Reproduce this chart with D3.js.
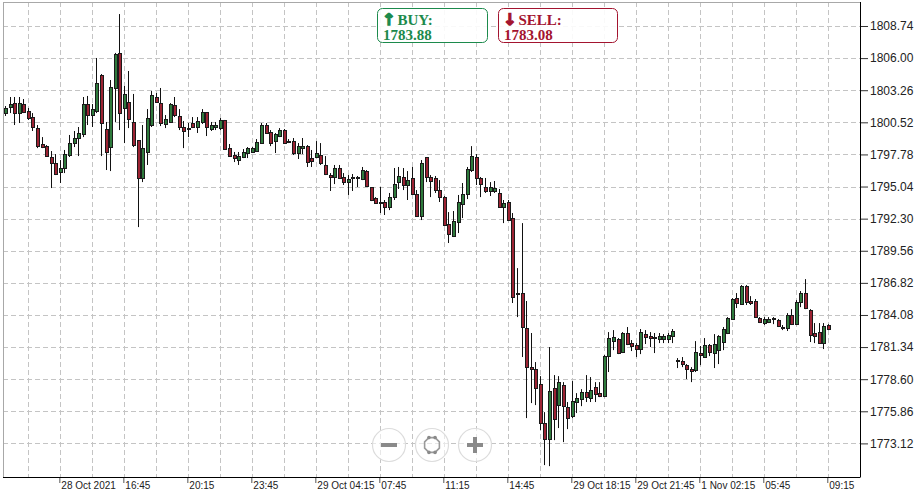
<!DOCTYPE html>
<html><head><meta charset="utf-8">
<script src="https://cdn.jsdelivr.net/npm/d3@7/dist/d3.min.js"></script>
<style>body{margin:0;background:#fff}svg{display:block}</style>
</head><body>
<script>
const openV=[1801.31,1801.82,1802.16,1801.31,1802.08,1801.48,1800.97,1800.03,1798.67,1798.49,
1797.56,1797.05,1796.28,1796.62,1797.73,1798.75,1799.18,1799.52,1802.08,1801.14,
1801.48,1804.56,1799.95,1798.41,1803.45,1806.44,1801.74,1802.25,1800.55,1799.01,
1795.77,1797.99,1800.29,1802.68,1802.16,1800.38,1800.55,1801.99,1801.06,1800.12,
1800.03,1800.46,1800.12,1800.55,1801.40,1799.95,1800.12,1800.03,1800.72,1798.32,
1797.73,1797.30,1797.56,1797.90,1797.99,1798.07,1798.75,1800.29,1799.69,1798.92,
1799.35,1799.86,1798.92,1798.92,1797.90,1798.32,1798.49,1797.47,1797.56,1797.73,
1796.88,1796.02,1795.85,1796.62,1795.85,1795.42,1795.77,1795.85,1795.68,1796.36,
1795.00,1794.06,1793.63,1793.72,1793.29,1794.14,1795.42,1795.85,1795.17,1795.77,
1794.40,1792.52,1797.56,1795.85,1795.77,1794.74,1794.14,1791.84,1790.82,1792.01,
1793.55,1794.40,1796.45,1797.56,1795.77,1795.00,1794.66,1794.66,1794.49,1793.29,
1793.72,1792.35,1785.95,1785.95,1782.96,1779.63,1779.46,1778.18,1774.85,1773.49,
1777.84,1776.39,1778.10,1776.22,1775.45,1776.65,1776.90,1777.50,1776.99,1777.93,
1777.41,1777.16,1780.57,1781.85,1782.02,1780.91,1782.54,1781.68,1781.51,1781.17,
1782.45,1782.28,1782.11,1782.02,1782.02,1782.02,1782.28,1780.15,1780.15,1779.80,
1779.46,1779.38,1780.83,1780.49,1781.51,1780.83,1781.08,1781.77,1782.54,1783.73,
1785.52,1785.01,1786.55,1785.27,1785.27,1783.82,1783.39,1783.47,1783.73,1783.65,
1783.05,1782.96,1784.07,1783.30,1785.18,1785.95,1784.50,1782.54,1782.62,1781.68,
1783.22];
const highV=[1801.91,1802.68,1802.68,1802.68,1802.51,1801.74,1801.31,1800.29,1799.26,1798.58,
1798.07,1797.81,1797.30,1798.16,1799.44,1799.78,1800.12,1802.68,1802.77,1802.08,
1806.01,1804.64,1800.55,1804.13,1806.44,1809.76,1803.62,1804.90,1802.94,1799.01,
1800.29,1801.65,1803.19,1803.02,1803.45,1801.14,1802.16,1802.68,1801.65,1800.63,
1800.46,1800.97,1800.97,1801.65,1801.40,1800.55,1800.55,1800.89,1800.72,1798.67,
1797.99,1797.99,1798.24,1798.41,1798.41,1799.09,1800.46,1800.46,1799.86,1799.61,
1800.03,1799.95,1799.09,1799.18,1798.75,1799.18,1798.58,1798.16,1798.92,1798.75,
1797.64,1796.19,1796.88,1796.88,1796.19,1796.02,1796.11,1795.94,1796.71,1796.45,
1795.00,1794.14,1795.00,1793.89,1794.49,1796.62,1796.71,1796.62,1796.36,1796.71,
1794.74,1797.30,1797.56,1796.02,1795.94,1795.59,1794.23,1792.86,1792.95,1794.32,
1795.34,1796.71,1798.49,1797.81,1795.85,1795.77,1795.42,1795.51,1794.83,1793.89,
1793.89,1792.78,1788.08,1791.92,1785.27,1782.54,1780.06,1778.86,1775.79,1781.34,
1778.95,1778.86,1778.35,1776.65,1778.44,1777.41,1777.75,1778.95,1778.78,1778.35,
1778.35,1780.66,1782.62,1782.79,1782.11,1782.62,1783.05,1781.94,1781.68,1782.88,
1782.79,1782.62,1782.54,1782.54,1782.45,1782.54,1782.88,1780.40,1780.49,1779.89,
1779.63,1781.85,1781.43,1782.11,1781.60,1782.45,1782.36,1783.05,1783.90,1785.52,
1785.95,1786.63,1786.63,1785.69,1785.44,1783.90,1783.90,1783.90,1783.90,1783.73,
1783.22,1784.24,1784.58,1785.35,1786.12,1787.14,1784.58,1783.39,1783.39,1783.39,
1783.30];
const lowV=[1801.06,1801.31,1800.29,1800.46,1801.31,1800.72,1799.78,1798.32,1798.32,1797.56,
1794.91,1796.02,1795.34,1796.19,1797.56,1798.41,1797.64,1799.26,1800.29,1800.12,
1801.31,1797.64,1796.45,1796.36,1800.55,1799.86,1798.75,1800.03,1798.41,1791.58,
1795.42,1796.88,1800.12,1802.25,1800.20,1800.03,1800.46,1800.97,1799.86,1798.32,
1799.26,1800.03,1799.61,1800.38,1799.35,1799.78,1799.86,1799.86,1798.16,1797.56,
1797.13,1796.88,1797.47,1797.47,1797.90,1797.99,1798.67,1799.61,1798.49,1797.90,
1799.26,1798.67,1798.75,1797.73,1797.39,1797.81,1796.71,1796.71,1797.47,1796.88,
1796.02,1794.66,1795.25,1795.68,1795.17,1794.32,1794.66,1795.00,1795.59,1795.00,
1793.80,1793.55,1792.78,1792.61,1793.03,1793.89,1794.83,1794.74,1793.89,1794.32,
1792.44,1792.18,1795.42,1794.14,1794.49,1793.72,1791.75,1790.22,1790.73,1791.07,
1792.35,1793.97,1796.28,1795.17,1794.14,1794.49,1794.23,1794.49,1793.29,1791.92,
1792.10,1785.10,1783.90,1780.49,1775.28,1776.56,1776.39,1774.26,1771.27,1771.18,
1773.40,1774.43,1773.23,1774.34,1775.28,1775.71,1776.30,1776.65,1776.65,1776.65,
1777.07,1777.07,1779.21,1781.08,1780.74,1780.83,1781.51,1781.00,1780.49,1780.74,
1781.60,1781.34,1780.83,1781.68,1781.68,1781.68,1781.68,1779.55,1779.63,1778.61,
1778.35,1779.21,1779.80,1780.49,1780.57,1779.55,1779.89,1781.08,1782.45,1783.65,
1784.67,1784.93,1784.93,1784.93,1783.82,1783.39,1783.22,1783.39,1783.30,1783.05,
1782.79,1782.71,1783.22,1783.22,1784.75,1784.58,1781.77,1781.68,1781.60,1781.17,
1782.79];
const closeV=[1801.74,1802.08,1801.31,1802.16,1801.40,1800.89,1800.12,1798.49,1798.41,1797.64,
1797.05,1796.11,1796.62,1797.81,1798.75,1799.18,1799.61,1802.08,1801.14,1801.65,
1803.87,1800.46,1797.99,1803.53,1806.35,1801.31,1802.94,1800.80,1798.58,1795.77,
1798.32,1800.89,1802.85,1802.25,1800.46,1800.80,1802.08,1801.14,1800.12,1799.78,
1799.95,1800.12,1800.63,1801.40,1800.12,1800.29,1800.29,1800.72,1798.24,1797.64,
1797.47,1797.64,1797.99,1798.32,1798.32,1798.84,1800.29,1799.61,1798.75,1799.52,
1799.86,1798.75,1798.84,1797.90,1798.49,1798.49,1797.13,1797.22,1797.90,1797.05,
1796.11,1795.85,1796.62,1795.77,1795.42,1795.68,1795.85,1795.77,1796.45,1795.08,
1793.89,1793.63,1793.72,1793.29,1794.14,1795.25,1795.94,1795.17,1795.59,1794.40,
1792.52,1797.05,1795.85,1795.51,1794.74,1794.14,1791.75,1790.99,1792.10,1793.72,
1794.40,1796.53,1797.64,1795.77,1795.25,1794.66,1795.00,1794.91,1793.29,1793.63,
1792.18,1785.61,1785.86,1783.05,1779.63,1779.46,1777.84,1774.85,1773.49,1777.58,
1775.19,1778.35,1776.30,1775.28,1776.73,1776.99,1777.50,1777.07,1777.67,1777.33,
1777.16,1780.57,1782.11,1782.19,1780.83,1782.54,1781.60,1781.43,1781.17,1782.62,
1782.19,1782.11,1782.19,1782.28,1782.28,1782.36,1782.71,1780.23,1779.89,1779.46,
1779.29,1780.91,1780.66,1781.51,1780.91,1781.60,1782.28,1782.88,1783.82,1785.44,
1785.10,1786.55,1785.18,1785.10,1783.90,1783.47,1783.73,1783.73,1783.82,1783.13,
1782.96,1784.07,1783.30,1785.18,1785.95,1784.67,1782.36,1782.28,1781.68,1783.13,
1782.88];
const yTicks=[1808.74,1806.00,1803.26,1800.52,1797.78,1795.04,1792.30,1789.56,1786.82,1784.08,1781.34,1778.60,1775.86,1773.12];
const xTickIdx=[12,26,40,54,68,82,96,110,124,138,152,166,180];
const xTickLabels=["28 Oct 2021","16:45","20:15","23:45","29 Oct 04:15","07:45","11:15","14:45","29 Oct 18:15","29 Oct 21:45","1 Nov 02:15","05:45","09:15"];
const buyPrice="1783.88", sellPrice="1783.08";

const W=919,H=492, L=3, T=2, R=860, B=477;
const svg=d3.select("body").append("svg").attr("width",W).attr("height",H);
const x=d3.scaleLinear().domain([0,180]).range([5,827.8]);
const y=d3.scaleLinear().domain([1773.12,1808.74]).range([443.4,26]);

// grid
const grid=svg.append("g").attr("stroke","#c4c4c4").attr("stroke-dasharray","5,3").attr("stroke-width",1);
grid.selectAll("line.h").data(yTicks).join("line")
  .attr("x1",L).attr("x2",R).attr("y1",d=>Math.round(y(d))+0.5).attr("y2",d=>Math.round(y(d))+0.5);
grid.selectAll("line.v").data(d3.range(5,187,7)).join("line")
  .attr("x1",d=>Math.round(x(d))+0.5).attr("x2",d=>Math.round(x(d))+0.5).attr("y1",T).attr("y2",B);

// border
svg.append("line").attr("x1",L).attr("x2",R).attr("y1",T+0.5).attr("y2",T+0.5).attr("stroke","#a8a8a8");
svg.append("line").attr("x1",L+0.5).attr("x2",L+0.5).attr("y1",T).attr("y2",B).attr("stroke","#a8a8a8");

// candles
const idx=d3.range(openV.length);
const cg=svg.append("g");
cg.selectAll("line").data(idx).join("line")
  .attr("x1",i=>Math.round(x(i))+0.5).attr("x2",i=>Math.round(x(i))+0.5)
  .attr("y1",i=>y(highV[i])).attr("y2",i=>y(lowV[i]))
  .attr("stroke","#111").attr("stroke-width",1);
cg.selectAll("rect").data(idx).join("rect")
  .attr("x",i=>Math.round(x(i))-1)
  .attr("width",3)
  .attr("y",i=>Math.round(y(Math.max(openV[i],closeV[i])))+0.5)
  .attr("height",i=>Math.max(1,Math.round(Math.abs(y(openV[i])-y(closeV[i])))))
  .attr("fill",i=>closeV[i]>=openV[i]?"#2e7a3c":"#9c2333")
  .attr("stroke","#1a1a1a").attr("stroke-width",1).attr("shape-rendering","crispEdges");

// y axis
const ya=svg.append("g").attr("transform",`translate(${R},0)`)
  .call(d3.axisRight(y).tickValues(yTicks).tickSize(8).tickPadding(2).tickFormat(d3.format(".2f")));
ya.select(".domain").remove();
ya.selectAll("line").attr("stroke","#333");
ya.selectAll("text").attr("font-family","Liberation Sans, Arial, sans-serif").attr("font-size",12).attr("fill","#222");
svg.append("line").attr("x1",R+0.5).attr("x2",R+0.5).attr("y1",T).attr("y2",B+0.5).attr("stroke","#000");

// x axis
const xa=svg.append("g").attr("transform",`translate(0,${B})`)
  .call(d3.axisBottom(x).tickValues(xTickIdx).tickSize(6).tickFormat((d,i)=>xTickLabels[i]));
xa.select(".domain").remove();
xa.selectAll("line").attr("stroke","#555").attr("transform","translate(-0.5,0)");
xa.selectAll("text").attr("text-anchor","start").attr("x",1).attr("y",5).attr("dy","0.71em")
  .attr("font-family","Liberation Sans, Arial, sans-serif").attr("font-size",10).attr("fill","#222");
svg.append("line").attr("x1",L).attr("x2",R).attr("y1",B+0.5).attr("y2",B+0.5).attr("stroke","#000");

// buy / sell boxes
function box(x0,w,color,arrow,label,price){
  const g=svg.append("g");
  g.append("rect").attr("x",x0+0.5).attr("y",8.5).attr("width",w).attr("height",34).attr("rx",5)
    .attr("fill","rgba(255,255,255,0.9)").attr("stroke",color).attr("stroke-width",1);
  const t=g.append("text").attr("x",x0+5).attr("y",24.5).attr("fill",color)
    .attr("font-family","Liberation Serif, Times New Roman, serif").attr("font-weight","bold").attr("font-size",15);
  t.append("tspan").attr("font-family","DejaVu Sans").attr("font-weight","bold").attr("font-size",16)
    .attr("stroke",color).attr("stroke-width",1.3).text(arrow);
  t.append("tspan").attr("dx",2).text(label);
  g.append("text").attr("x",x0+6).attr("y",40).attr("fill",color)
    .attr("font-family","Liberation Serif, Times New Roman, serif").attr("font-weight","bold").attr("font-size",15).text(price);
}
box(377,110,"#1c8a4c","\u2191","BUY:",buyPrice);
box(498,119,"#a3142f","\u2193","SELL:",sellPrice);

// zoom buttons
const zb=svg.append("g");
[389,432,475].forEach(cx=>{
  zb.append("circle").attr("cx",cx).attr("cy",445).attr("r",16.5).attr("fill","rgba(255,255,255,0.6)").attr("stroke","#dcdcdc").attr("stroke-width",1.2);
});
zb.append("rect").attr("x",381).attr("y",443).attr("width",16).attr("height",4).attr("fill","#8a8a8a");
zb.append("rect").attr("x",467).attr("y",443).attr("width",16).attr("height",4).attr("fill","#8a8a8a");
zb.append("rect").attr("x",473).attr("y",437).attr("width",4).attr("height",16).attr("fill","#8a8a8a");
const oct=d3.range(8).map(k=>[432+8*Math.cos(k*Math.PI/4+Math.PI/8),445+8*Math.sin(k*Math.PI/4+Math.PI/8)]);
zb.append("polygon").attr("points",oct.map(p=>p.join(",")).join(" ")).attr("fill","none").attr("stroke","#9a9a9a").attr("stroke-width",1.6);
[oct[1],oct[2],oct[5],oct[6]].forEach(p=>zb.append("circle").attr("cx",p[0]).attr("cy",p[1]).attr("r",1.8).attr("fill","#8a8a8a"));
</script>
</body></html>
